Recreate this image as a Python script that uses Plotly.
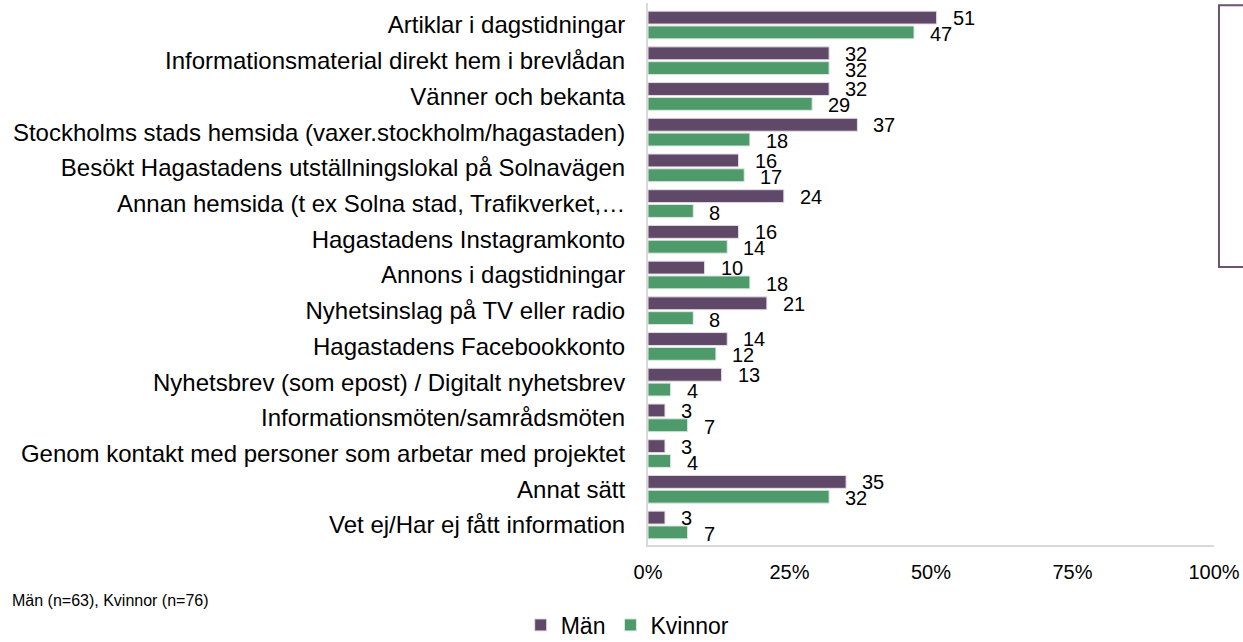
import plotly.graph_objects as go

# Data
categories = [
    "Artiklar i dagstidningar",
    "Informationsmaterial direkt hem i brevlådan",
    "Vänner och bekanta",
    "Stockholms stads hemsida (vaxer.stockholm/hagastaden)",
    "Besökt Hagastadens utställningslokal på Solnavägen",
    "Annan hemsida (t ex Solna stad, Trafikverket,…",
    "Hagastadens Instagramkonto",
    "Annons i dagstidningar",
    "Nyhetsinslag på TV eller radio",
    "Hagastadens Facebookkonto",
    "Nyhetsbrev (som epost) / Digitalt nyhetsbrev",
    "Informationsmöten/samrådsmöten",
    "Genom kontakt med personer som arbetar med projektet",
    "Annat sätt",
    "Vet ej/Har ej fått information",
]
man = [51, 32, 32, 37, 16, 24, 16, 10, 21, 14, 13, 3, 3, 35, 3]
kvinnor = [47, 32, 29, 18, 17, 8, 14, 18, 8, 12, 4, 7, 4, 32, 7]
tick_vals = [0, 25, 50, 75, 100]
tick_text = ["0%", "25%", "50%", "75%", "100%"]

purple = "#604868"
green = "#4E9A6A"
font_family = "Arial, Liberation Sans, sans-serif"

fig = go.Figure()
fig.add_trace(go.Bar(
    y=categories, x=man, name="Män", orientation="h",
    marker=dict(color=purple, line=dict(color="#E4DEE6", width=1)),
))
fig.add_trace(go.Bar(
    y=categories, x=kvinnor, name="Kvinnor", orientation="h",
    marker=dict(color=green, line=dict(color="#DDE9E1", width=1)),
))

# datavärden bredvid staplarna
for cat, m, k in zip(categories, man, kvinnor):
    fig.add_annotation(x=m, y=cat, text=str(m), showarrow=False,
                       xanchor="left", xshift=14, yshift=7,
                       font=dict(size=20, color="#000000"))
    fig.add_annotation(x=k, y=cat, text=str(k), showarrow=False,
                       xanchor="left", xshift=14, yshift=-9,
                       font=dict(size=20, color="#000000"))

# underlag
fig.add_annotation(text="Män (n=63), Kvinnor (n=76)", xref="paper", yref="paper",
                   x=-1.128, y=-0.102, xanchor="left", yanchor="middle",
                   showarrow=False, font=dict(size=16, color="#000000"))

# ram till höger (avklippt)
fig.add_shape(type="rect", xref="paper", yref="paper",
              x0=1.0088, x1=1.08, y0=0.513, y1=0.996,
              line=dict(color="#6A5470", width=2), fillcolor="rgba(0,0,0,0)")

fig.update_layout(
    width=1243, height=642,
    barmode="group", bargap=0.17, bargroupgap=0.13,
    plot_bgcolor="white", paper_bgcolor="white",
    font=dict(family=font_family, color="#000000"),
    margin=dict(l=648, r=25, t=3, b=97),
    legend=dict(orientation="h", xref="container", yref="container",
                x=0.505, y=0.06, xanchor="center", yanchor="top",
                font=dict(size=23), itemwidth=30),
)
fig.update_xaxes(range=[0, 100], tickvals=tick_vals, ticktext=tick_text,
                 showgrid=False, zeroline=False, showline=True,
                 linecolor="#D9D9D9", linewidth=2, ticks="",
                 ticklabelstandoff=8, ticklabeloverflow="allow",
                 tickfont=dict(size=20))
fig.update_yaxes(autorange="reversed", showgrid=False, showline=True,
                 linecolor="#D9D9D9", linewidth=2, ticks="",
                 ticklabelstandoff=16, tickfont=dict(size=24))

fig.write_html("out.html", config={"displayModeBar": False},
               post_script="document.body.style.margin='0px';")
